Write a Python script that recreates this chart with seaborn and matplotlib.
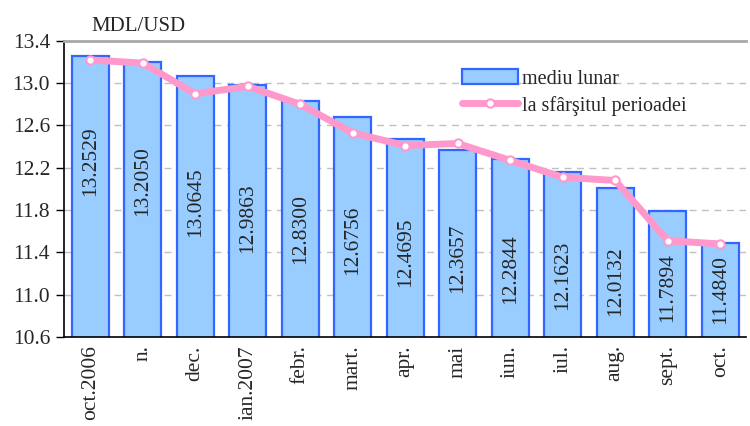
import numpy as np
import pandas as pd
import seaborn as sns
import matplotlib.pyplot as plt
from matplotlib.ticker import FixedLocator

luni = ['oct.2006', 'n.', 'dec.', 'ian.2007', 'febr.', 'mart.', 'apr.',
        'mai', 'iun.', 'iul.', 'aug.', 'sept.', 'oct.']
mediu_lunar = [13.2529, 13.2050, 13.0645, 12.9863, 12.8300, 12.6756, 12.4695,
               12.3657, 12.2844, 12.1623, 12.0132, 11.7894, 11.4840]
sfarsit_perioada = [13.22, 13.19, 12.90, 12.97, 12.80, 12.53, 12.41,
                    12.43, 12.27, 12.11, 12.08, 11.51, 11.48]
y_ticks = [10.6, 11.0, 11.4, 11.8, 12.2, 12.6, 13.0, 13.4]

# unde stau etichetele din bare (centru, in unitati ale axei y)
poz_etichete = [12.26, 12.07, 11.87, 11.72, 11.62, 11.51, 11.40,
                11.34, 11.24, 11.18, 11.13, 11.07, 11.05]

sns.set_style('white')
plt.rcParams['font.family'] = ['Liberation Serif', 'DejaVu Serif']

df = pd.DataFrame({'luna': luni, 'mediu': mediu_lunar, 'sfarsit': sfarsit_perioada})
df['poz'] = np.arange(len(df))

fig = plt.figure(figsize=(7.5, 4.26), dpi=100)
ax = fig.add_axes([0.0853, 0.209, 0.9100, 0.695])

sns.barplot(data=df, x='luna', y='mediu', color='#99CCFF', edgecolor='#3366FF',
            linewidth=1.6, width=0.71, saturation=1, ax=ax, label='mediu lunar', zorder=2)
sns.lineplot(data=df, x='poz', y='sfarsit', color='#FF99CC', linewidth=5,
             marker='o', markersize=6, markerfacecolor='white', markeredgecolor='#FF99CC',
             markeredgewidth=1.5, ax=ax, label='la sfârşitul perioadei', zorder=3)

for i, (v, p) in enumerate(zip(mediu_lunar, poz_etichete)):
    ax.text(i, p, f'{v:.4f}', rotation=90, ha='center', va='center', fontsize=15.5, zorder=4)

ax.set_ylim(10.6, 13.4)
ax.set_xlim(-0.5, len(luni) - 0.5)
ax.set_yticks(y_ticks)
ax.set_yticklabels([f'{t:.1f}' for t in y_ticks], fontsize=15.5)
ax.set_xticks(df['poz'])
ax.set_xticklabels(luni, rotation=90, fontsize=15.5)
ax.xaxis.set_minor_locator(FixedLocator(np.arange(-0.5, len(luni), 1.0)))
ax.tick_params(axis='x', which='major', length=0, pad=6)
ax.tick_params(axis='x', which='minor', length=6, width=1, color='black', direction='out')
ax.tick_params(axis='y', length=6, width=1, color='black', direction='out', left=True, pad=4)
ax.set_xlabel('')
ax.set_ylabel('')

for t in y_ticks[1:-1]:
    ax.axhline(t, color='#C0C0C0', linestyle=(0, (5, 4)), linewidth=1, zorder=1)

for s in ['left', 'bottom']:
    ax.spines[s].set_color('black')
    ax.spines[s].set_linewidth(1.2)
ax.spines['top'].set_color('#A8A8A8')
ax.spines['top'].set_linewidth(2)
ax.spines['right'].set_visible(False)

ax.text(0.04, 1.015, 'MDL/USD', transform=ax.transAxes, fontsize=15, ha='left', va='bottom')

handles, labels = ax.get_legend_handles_labels()
order = [labels.index('mediu lunar'), labels.index('la sfârşitul perioadei')]
leg = ax.legend([handles[k] for k in order], [labels[k] for k in order],
                loc='upper left', bbox_to_anchor=(0.583, 0.905), frameon=False, fontsize=14.5,
                handlelength=2.8, handleheight=0.8, handletextpad=0.2, labelspacing=0.35,
                borderaxespad=0, borderpad=0)

fig.savefig('out.png', dpi=100)
